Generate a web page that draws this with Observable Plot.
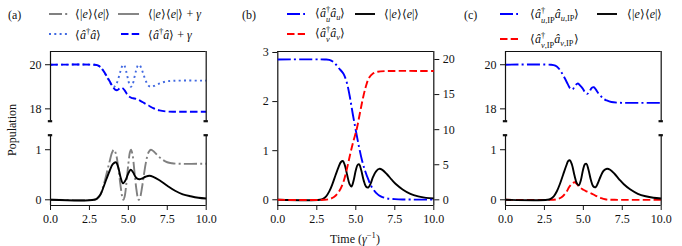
<!DOCTYPE html>
<html><head><meta charset="utf-8">
<script src="https://cdn.jsdelivr.net/npm/d3@7"></script>
<script src="https://cdn.jsdelivr.net/npm/@observablehq/plot@0.6"></script>
<style>
body{margin:0;background:#fff;}
#c{position:relative;width:682px;height:246px;font-family:"Liberation Serif",serif;color:#111;overflow:hidden;}
#c > svg{position:absolute;left:0;top:0;font-family:"Liberation Serif",serif !important;font-size:12px !important;background:transparent !important;}
#c > svg text{font-family:"Liberation Serif",serif !important;font-size:12px !important;}
.t{position:absolute;font-size:12px;white-space:nowrap;line-height:1;transform:translateY(-50%);}
.ss{display:inline-block;vertical-align:-0.62em;font-size:0.7em;line-height:1.15em;}
.sw{position:absolute;}
</style></head><body><div id="c"></div><script>
// ---------- data (time in 1/gamma) ----------
const xTicks = [0, 2.5, 5, 7.5, 10];
const topTicks = [18, 20];
const botTicks = [0, 1];
const bLeftTicks = [0, 1, 2, 3];
const bRightTicks = [0, 5, 10, 15, 20];

// panel (a)
const excA = [[0,0],[2.8,0],[3.0,0.02],[3.2,0.1],[3.4,0.28],[3.6,0.52],[3.8,0.77],[3.95,0.94],[4.07,1.0],[4.2,0.92],[4.35,0.65],[4.5,0.28],[4.62,0.04],[4.68,0],[4.76,0.06],[4.88,0.35],[5.0,0.72],[5.1,0.95],[5.17,1.0],[5.27,0.9],[5.38,0.6],[5.5,0.25],[5.6,0.05],[5.67,0],[5.75,0.04],[5.88,0.25],[6.0,0.5],[6.15,0.78],[6.3,0.95],[6.45,1.0],[6.65,0.96],[6.9,0.88],[7.2,0.8],[7.5,0.75],[7.8,0.73],[8.2,0.72],[10,0.72]];
const excGammaA = [[0,0],[2.8,0],[3.0,0.03],[3.2,0.1],[3.4,0.25],[3.6,0.42],[3.8,0.58],[4.0,0.71],[4.2,0.75],[4.35,0.65],[4.5,0.45],[4.65,0.33],[4.8,0.38],[5.0,0.53],[5.15,0.6],[5.3,0.55],[5.5,0.44],[5.7,0.41],[5.9,0.43],[6.1,0.46],[6.35,0.48],[6.6,0.46],[7.0,0.39],[7.5,0.28],[8.0,0.18],[8.5,0.11],[9.0,0.07],[9.5,0.04],[10,0.025]];
const photA = [[0,20],[2.8,20],[3.0,19.98],[3.2,19.9],[3.4,19.72],[3.6,19.48],[3.8,19.23],[3.95,19.06],[4.07,19.0],[4.2,19.08],[4.35,19.35],[4.5,19.72],[4.62,19.96],[4.68,20],[4.76,19.94],[4.88,19.65],[5.0,19.28],[5.1,19.05],[5.17,19.0],[5.27,19.1],[5.38,19.4],[5.5,19.75],[5.6,19.95],[5.67,20],[5.75,19.96],[5.88,19.75],[6.0,19.5],[6.15,19.22],[6.3,19.05],[6.45,19.0],[6.65,19.04],[6.9,19.12],[7.2,19.2],[7.5,19.25],[7.8,19.27],[8.2,19.28],[10,19.28]];
const photGammaA = [[0,20],[2.8,20],[3.0,19.98],[3.2,19.9],[3.4,19.72],[3.6,19.5],[3.8,19.25],[4.0,19.0],[4.15,18.87],[4.3,18.85],[4.45,18.93],[4.6,18.95],[4.75,18.85],[4.9,18.68],[5.05,18.56],[5.2,18.5],[5.4,18.47],[5.6,18.42],[5.8,18.35],[6.0,18.27],[6.3,18.15],[6.6,18.03],[7.0,17.93],[7.5,17.88],[8,17.87],[10,17.87]];

// panel (b)
const uB = [[0,20],[3.0,20],[3.3,19.95],[3.6,19.6],[3.9,18.8],[4.2,18.0],[4.4,16.9],[4.6,14.9],[4.8,12.3],[5.0,9.9],[5.2,7.6],[5.4,5.6],[5.6,4.1],[5.8,2.9],[6.0,1.9],[6.3,1.0],[6.6,0.5],[7.0,0.2],[7.5,0.1],[8,0.05],[10,0.03]];
const vB = [[0,0],[3.0,0],[3.3,0.1],[3.6,0.4],[3.9,1.1],[4.2,2.5],[4.45,4.6],[4.65,6.6],[4.85,8.4],[5.05,10.0],[5.25,12.2],[5.45,14.4],[5.65,16.2],[5.85,17.4],[6.1,18.0],[6.4,18.25],[7,18.35],[10,18.35]];
const excB = [[0,0],[2.7,0],[2.9,0.02],[3.1,0.07],[3.3,0.17],[3.5,0.32],[3.7,0.5],[3.9,0.67],[4.05,0.77],[4.17,0.79],[4.3,0.7],[4.45,0.5],[4.6,0.32],[4.72,0.27],[4.85,0.38],[5.0,0.6],[5.12,0.71],[5.22,0.72],[5.35,0.6],[5.5,0.4],[5.65,0.27],[5.8,0.25],[5.95,0.33],[6.1,0.46],[6.3,0.58],[6.5,0.63],[6.7,0.61],[7.0,0.52],[7.3,0.41],[7.6,0.31],[8.0,0.21],[8.5,0.12],[9.0,0.07],[9.5,0.04],[10,0.025]];

// panel (c)
const uC = [[0,20],[2.9,20],[3.2,19.96],[3.4,19.85],[3.6,19.65],[3.8,19.4],[4.0,19.12],[4.15,18.93],[4.3,18.88],[4.5,19.08],[4.65,19.15],[4.8,19.05],[4.95,18.93],[5.1,18.76],[5.25,18.68],[5.4,18.8],[5.55,18.96],[5.67,18.98],[5.8,18.88],[5.95,18.72],[6.1,18.6],[6.3,18.45],[6.5,18.38],[6.8,18.31],[7.2,18.28],[8,18.27],[10,18.27]];
const vC = [[0,0],[3.0,0],[3.3,0.01],[3.6,0.05],[3.9,0.15],[4.1,0.26],[4.3,0.33],[4.45,0.35],[4.6,0.31],[4.8,0.24],[5.0,0.2],[5.2,0.17],[5.5,0.13],[5.8,0.08],[6.1,0.04],[6.4,0.01],[7,0],[10,0]];
const excC = [[0,0],[2.7,0],[2.9,0.02],[3.1,0.07],[3.3,0.17],[3.5,0.32],[3.7,0.5],[3.9,0.68],[4.02,0.77],[4.13,0.79],[4.27,0.7],[4.42,0.5],[4.58,0.33],[4.71,0.29],[4.84,0.39],[4.98,0.6],[5.1,0.71],[5.2,0.72],[5.33,0.6],[5.48,0.4],[5.63,0.27],[5.78,0.25],[5.93,0.33],[6.1,0.46],[6.3,0.58],[6.52,0.62],[6.72,0.6],[7.0,0.52],[7.3,0.41],[7.6,0.31],[8.0,0.21],[8.5,0.12],[9.0,0.07],[9.5,0.04],[10,0.025]];

// ---------- layout ----------
const W = 682, H = 246;
const FX = {a:[50,205.7], b:[277.3,433.3], c:[505,660.7]};
const TOP = [51,120.7], BOT = [134.7,205], FULL = [51,205];
const topDom = [17.44, 20.6], botDom = [-0.114, 1.29];
const bLeftDom = [-0.1165, 3.02], bRightDom = [-0.81, 21.14];

const DASH = "7.5,3.2", DASHDOT = "13,3.2,2,3.2", DOT = "2,3.3";
const LW = 1.9;
const fmtX = d => d.toFixed(1);
const fmtY = d => String(d);
const ln = (data, stroke, dash) => Plot.line(data, {x: d => d[0], y: d => d[1], stroke, strokeWidth: LW, strokeDasharray: dash, strokeLinecap: "butt", curve: "catmull-rom"});

function sub({fx, fy, yDom, yTicks, yAxis = "left", xAxis = false, frame, marks}) {
  const spines = [];
  if (frame.left) spines.push(Plot.ruleX([0], {stroke: "#111", strokeWidth: 1.2}));
  if (frame.right) spines.push(Plot.ruleX([10], {stroke: "#111", strokeWidth: 1.2}));
  if (frame.top) spines.push(Plot.ruleY([yDom[1]], {stroke: "#111", strokeWidth: 1.2}));
  if (frame.bottom) spines.push(Plot.ruleY([yDom[0]], {stroke: "#111", strokeWidth: 1.2}));
  if (frame.capBottom) spines.push(Plot.ruleY([yDom[0], yDom[0]], {x1: [-0.14, 9.86], x2: [0.14, 10.14], stroke: "#111", strokeWidth: 2.2}));
  if (frame.capTop) spines.push(Plot.ruleY([yDom[1], yDom[1]], {x1: [-0.14, 9.86], x2: [0.14, 10.14], stroke: "#111", strokeWidth: 2.2}));
  const svg = Plot.plot({
    width: W, height: H,
    marginLeft: fx[0], marginRight: W - fx[1], marginTop: fy[0], marginBottom: H - fy[1],
    style: {background: "transparent", fontFamily: "Liberation Serif, serif", fontSize: "12px", color: "#111", overflow: "visible"},
    x: {domain: [0, 10], axis: xAxis ? "bottom" : null, ticks: xTicks, tickFormat: fmtX, tickSize: 5, tickPadding: 4, label: null},
    y: {domain: yDom, axis: yAxis, ticks: yTicks, tickFormat: fmtY, tickSize: 5, tickPadding: 4, label: null},
    marks: [...marks, ...spines]
  });
  svg.querySelectorAll("g, text").forEach(el => {
    if (el.hasAttribute("font-family")) el.setAttribute("font-family", "Liberation Serif, serif");
    if (el.hasAttribute("font-size")) el.setAttribute("font-size", "12");
  });
  return svg;
}

const root = document.getElementById("c");
const add = el => root.appendChild(el);

// (a)
add(sub({fx: FX.a, fy: TOP, yDom: topDom, yTicks: topTicks, frame: {left:1,right:1,top:1,capBottom:1},
  marks: [ln(photA, "#4169e1", DOT), ln(photGammaA, "#0000ff", DASH)]}));
add(sub({fx: FX.a, fy: BOT, yDom: botDom, yTicks: botTicks, xAxis: true, frame: {left:1,right:1,bottom:1,capTop:1},
  marks: [ln(excA, "#808080", DASHDOT), ln(excGammaA, "#000", null)]}));
// (b)
add(sub({fx: FX.b, fy: FULL, yDom: bLeftDom, yTicks: bLeftTicks, xAxis: true, frame: {left:1,right:1,top:1,bottom:1},
  marks: [ln(excB, "#000", null)]}));
add(sub({fx: FX.b, fy: FULL, yDom: bRightDom, yTicks: bRightTicks, yAxis: "right", frame: {},
  marks: [ln(uB, "#0000ff", DASHDOT), ln(vB, "#ff0000", DASH)]}));
// (c)
add(sub({fx: FX.c, fy: TOP, yDom: topDom, yTicks: topTicks, frame: {left:1,right:1,top:1,capBottom:1},
  marks: [ln(uC, "#0000ff", DASHDOT)]}));
add(sub({fx: FX.c, fy: BOT, yDom: botDom, yTicks: botTicks, xAxis: true, frame: {left:1,right:1,bottom:1,capTop:1},
  marks: [ln(vC, "#ff0000", DASH), ln(excC, "#000", null)]}));

// ---------- text & legends ----------
function text(html, x, y, extra = "") {
  const d = document.createElement("div");
  d.className = "t"; d.style.left = x + "px"; d.style.top = y + "px";
  if (extra) d.style.cssText += extra;
  d.innerHTML = html; root.appendChild(d); return d;
}
function swatch(x, y, len, stroke, dash) {
  const s = document.createElementNS("http://www.w3.org/2000/svg", "svg");
  s.setAttribute("class", "sw"); s.setAttribute("width", len); s.setAttribute("height", 6);
  s.style.left = x + "px"; s.style.top = (y - 3) + "px";
  s.innerHTML = `<line x1="0" y1="3" x2="${len}" y2="3" stroke="${stroke}" stroke-width="${LW}" ${dash ? `stroke-dasharray="${dash}"` : ""}/>`;
  root.appendChild(s);
}
const E = "⟨|<i>e</i>⟩⟨<i>e</i>|⟩";
const AA = "⟨<i>â</i><sup style='font-size:0.72em'>†</sup><i>â</i>⟩";
const op = s => `⟨<i>â</i><span class="ss">†<br>${s}</span><i>â</i><sub style="font-size:0.7em">${s}</sub>⟩`;

text("(a)", 8, 15);
swatch(49, 14, 19, "#808080", DASHDOT); text(E, 75, 14);
swatch(118, 14, 21, "#808080", null); text(E + " + <i>γ</i>", 148, 14);
swatch(49, 33.5, 19, "#4169e1", DOT); text(AA, 75, 33.5);
swatch(120.5, 33.5, 19, "#0000ff", DASH); text(AA + " + <i>γ</i>", 148, 33.5);

text("(b)", 242, 15);
swatch(287, 14, 18, "#0000ff", DASHDOT); text(op("<i>u</i>"), 315, 15);
swatch(355, 14, 20, "#000", null); text(E, 384, 14);
swatch(287, 34, 18, "#ff0000", DASH); text(op("<i>v</i>"), 315, 35);

text("(c)", 464, 15);
swatch(500, 14, 18, "#0000ff", DASHDOT); text(op("<i>u</i>,IP"), 530, 16);
swatch(597, 14, 20, "#000", null); text(E, 627, 14);
swatch(500, 39, 18, "#ff0000", DASH); text(op("<i>v</i>,IP"), 530, 41);

text("Population", 12, 130, "transform:translate(-50%,-50%) rotate(-90deg);");
text("Time (<i>γ</i><sup style='font-size:0.72em'>−1</sup>)", 355, 238, "transform:translate(-50%,-50%);");
</script></body></html>
